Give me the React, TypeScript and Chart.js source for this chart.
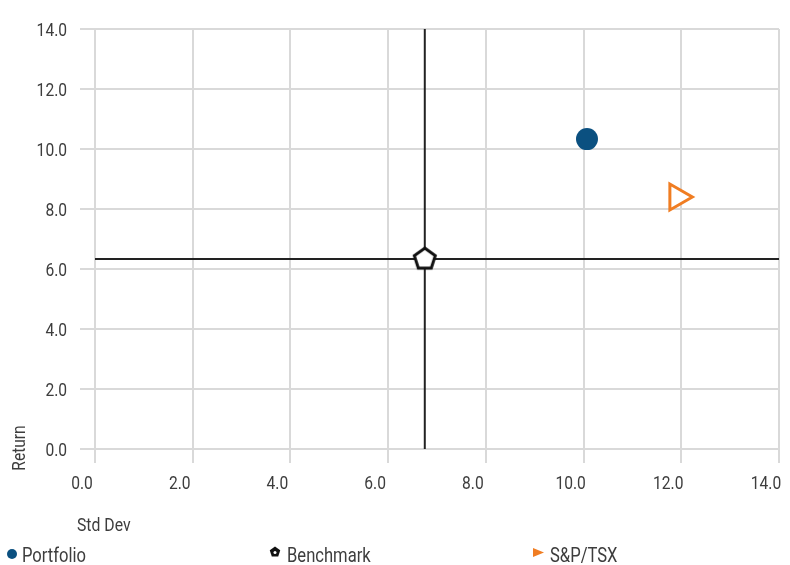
import React, { useEffect, useRef } from 'react';
import { Chart, registerables } from 'chart.js';
Chart.register(...registerables);

// ---- data ----
const seriesNames = ['Portfolio', 'Benchmark', 'S&P/TSX'];
const stdDevValues = [10.07, 6.75, 11.92];
const returnValues = [10.33, 6.33, 8.4];
const axisMin = 0;
const axisMax = 14;
const axisStep = 2;
const xTitle = 'Std Dev';
const yTitle = 'Return';

// ---- styles ----
const FONT = "Roboto, 'DejaVu Sans Condensed', sans-serif";
const TEXT = '#3d3d3d';
const GRID = '#d9d9d9';
const BLUE = '#0b5080';
const ORANGE = '#f07d22';
const LINE = '#222222';

function makePentagon(R: number, lw: number, stroke: string, fill: string) {
  const size = Math.ceil(2 * (R + lw));
  const c = document.createElement('canvas');
  c.width = size;
  c.height = size;
  const g = c.getContext('2d')!;
  const cx = size / 2;
  const cy = size / 2;
  g.beginPath();
  for (let i = 0; i < 5; i++) {
    const a = -Math.PI / 2 + (i * 2 * Math.PI) / 5;
    const px = cx + R * Math.cos(a);
    const py = cy + R * Math.sin(a);
    if (i === 0) g.moveTo(px, py);
    else g.lineTo(px, py);
  }
  g.closePath();
  g.fillStyle = fill;
  g.fill();
  g.lineWidth = lw;
  g.strokeStyle = stroke;
  g.lineJoin = 'miter';
  g.stroke();
  return c;
}

function condText(
  ctx: CanvasRenderingContext2D,
  text: string,
  x: number,
  y: number,
  align: CanvasTextAlign,
  sx: number,
  rot = 0
) {
  ctx.save();
  ctx.translate(x, y);
  if (rot) ctx.rotate(rot);
  ctx.scale(sx, 1);
  ctx.textAlign = align;
  ctx.textBaseline = 'alphabetic';
  ctx.fillText(text, 0, 0);
  ctx.restore();
}

const overlayPlugin = {
  id: 'overlay',
  afterDraw(chart: any) {
    const ctx = chart.ctx as CanvasRenderingContext2D;
    const xs = chart.scales.x;
    const ys = chart.scales.y;
    const fmt = (v: number) => Number(v).toFixed(1);
    ctx.save();
    ctx.fillStyle = TEXT;
    ctx.font = `19px ${FONT}`;

    // tick labels from the scales
    xs.ticks.forEach((t: any) => {
      condText(ctx, fmt(t.value), xs.getPixelForValue(t.value) - 13, 489, 'center', 0.82);
    });
    ys.ticks.forEach((t: any) => {
      condText(ctx, fmt(t.value), 67, ys.getPixelForValue(t.value) + 7, 'right', 0.82);
    });

    // axis titles
    condText(ctx, xTitle, 77, 531, 'left', 0.83);
    condText(ctx, yTitle, 25, 448, 'center', 0.82, -Math.PI / 2);

    // legend
    ctx.font = `21px ${FONT}`;
    const colW = 263;
    seriesNames.forEach((name, i) => {
      const x0 = 7 + i * colW;
      const my = 554;
      let tx = x0 + 15;
      if (i === 0) {
        ctx.beginPath();
        ctx.arc(x0 + 5, my, 5, 0, Math.PI * 2);
        ctx.fillStyle = BLUE;
        ctx.fill();
      } else if (i === 1) {
        const cx = x0 + 5;
        const cy = my - 2;
        ctx.beginPath();
        for (let k = 0; k < 5; k++) {
          const a = -Math.PI / 2 + (k * 2 * Math.PI) / 5;
          const px = cx + 5.5 * Math.cos(a);
          const py = cy + 5.5 * Math.sin(a);
          if (k === 0) ctx.moveTo(px, py);
          else ctx.lineTo(px, py);
        }
        ctx.closePath();
        ctx.fillStyle = '#111';
        ctx.fill();
        ctx.beginPath();
        ctx.arc(cx, cy + 0.5, 1.5, 0, Math.PI * 2);
        ctx.fillStyle = '#fff';
        ctx.fill();
        tx = x0 + 17;
      } else {
        ctx.beginPath();
        ctx.moveTo(x0, my - 6);
        ctx.lineTo(x0, my + 3);
        ctx.lineTo(x0 + 11, my - 1.5);
        ctx.closePath();
        ctx.fillStyle = ORANGE;
        ctx.fill();
        tx = x0 + 17;
      }
      ctx.fillStyle = TEXT;
      condText(ctx, name, tx, 562, 'left', 0.79);
    });
    ctx.restore();
  },
};

export default function App() {
  const ref = useRef<HTMLCanvasElement | null>(null);
  useEffect(() => {
    document.body.style.margin = '0';
    if (!ref.current) return;
    const pentagon = makePentagon(11, 3, '#111', '#fff');
    const bx = stdDevValues[1];
    const by = returnValues[1];
    const chart = new Chart(ref.current, {
      type: 'scatter',
      data: {
        datasets: [
          {
            label: seriesNames[0],
            data: [{ x: stdDevValues[0], y: returnValues[0] }],
            pointStyle: 'circle',
            pointRadius: 11,
            backgroundColor: BLUE,
            borderColor: BLUE,
            borderWidth: 0,
          },
          {
            label: seriesNames[1],
            data: [{ x: bx, y: by }],
            pointStyle: pentagon as any,
            pointRadius: 12,
          },
          {
            label: seriesNames[2],
            data: [{ x: stdDevValues[2], y: returnValues[2] }],
            pointStyle: 'triangle',
            pointRotation: 90,
            pointRadius: 15,
            borderWidth: 3,
            borderColor: ORANGE,
            backgroundColor: '#ffffff',
          } as any,
          {
            label: 'vline',
            data: [
              { x: bx, y: axisMin },
              { x: bx, y: axisMax },
            ],
            showLine: true,
            pointRadius: 0,
            borderColor: LINE,
            borderWidth: 2,
          },
          {
            label: 'hline',
            data: [
              { x: axisMin, y: by },
              { x: axisMax, y: by },
            ],
            showLine: true,
            pointRadius: 0,
            borderColor: LINE,
            borderWidth: 2,
          },
        ],
      },
      options: {
        animation: false,
        responsive: true,
        maintainAspectRatio: false,
        events: [],
        layout: { autoPadding: false, padding: { top: 29, right: 11, bottom: 0, left: 0 } },
        plugins: { legend: { display: false }, tooltip: { enabled: false } },
        scales: {
          x: {
            type: 'linear',
            min: axisMin,
            max: axisMax,
            ticks: { stepSize: axisStep, display: false },
            grid: { color: GRID, lineWidth: 2, tickLength: 14, drawTicks: true },
            border: { display: false },
            afterFit: (s: any) => {
              s.height = 116;
            },
          },
          y: {
            type: 'linear',
            min: axisMin,
            max: axisMax,
            ticks: { stepSize: axisStep, display: false },
            grid: { color: GRID, lineWidth: 2, tickLength: 15, drawTicks: true },
            border: { display: false },
            afterFit: (s: any) => {
              s.width = 95;
            },
          },
        },
      },
      plugins: [overlayPlugin],
    });
    return () => chart.destroy();
  }, []);
  return (
    <div style={{ position: 'fixed', left: 0, top: 0, width: 790, height: 565 }}>
      <canvas ref={ref} />
    </div>
  );
}
